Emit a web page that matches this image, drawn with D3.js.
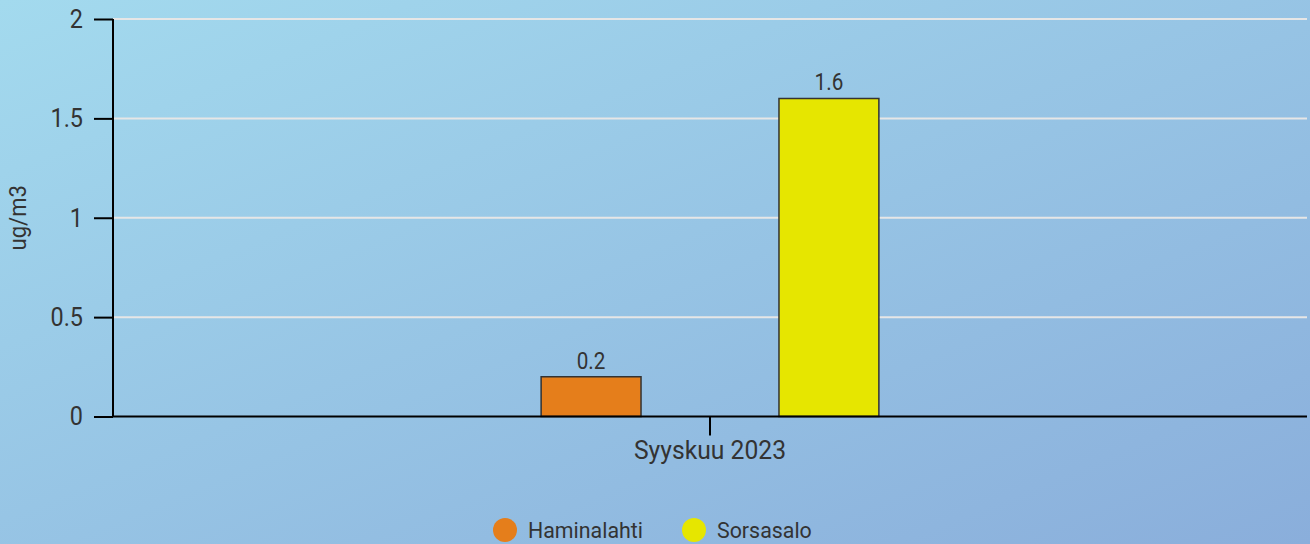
<!DOCTYPE html>
<html>
<head>
<meta charset="utf-8">
<script src="https://cdn.jsdelivr.net/npm/d3@7"></script>
<style>
  body { margin: 0; }
  svg { display: block; font-family: Roboto, sans-serif; }
  /* no condensed face installed, so squeeze Roboto a little */
  .cond { transform-box: fill-box; transform: scaleX(0.9); }
</style>
</head>
<body>
<svg id="chart" width="1310" height="544"></svg>
<script>
var categories = ["Syyskuu 2023"];
var seriesNames = ["Haminalahti", "Sorsasalo"];
var seriesValues = [0.2, 1.6];
var seriesColors = ["#e57e1b", "#e6e600"];
var yTicks = [0, 0.5, 1, 1.5, 2];

var width = 1310, height = 544;
var margin = {top: 19, right: 3, bottom: 127.5, left: 113};

var svg = d3.select("#chart");

// background gradient
var defs = svg.append("defs");
var grad = defs.append("linearGradient").attr("id", "bg")
	.attr("x1", "0%").attr("y1", "0%").attr("x2", "100%").attr("y2", "100%");
grad.append("stop").attr("offset", "0%").attr("stop-color", "#a3daee");
grad.append("stop").attr("offset", "100%").attr("stop-color", "#8aaedb");
svg.append("rect").attr("width", width).attr("height", height).attr("fill", "url(#bg)");

var x0 = d3.scaleBand().domain(categories).range([margin.left, width - margin.right]);
var x1 = d3.scaleBand().domain(seriesNames).range([0, x0.bandwidth()])
	.paddingInner(0.58).paddingOuter(1.8);
var y = d3.scaleLinear().domain([0, 2]).range([height - margin.bottom, margin.top]);

// grid lines
svg.append("g").selectAll("line").data(yTicks.slice(1)).enter().append("line")
	.attr("x1", margin.left).attr("x2", width - margin.right)
	.attr("y1", function(d) { return y(d); }).attr("y2", function(d) { return y(d); })
	.attr("stroke", "#e6e6e6").attr("stroke-width", 2);

// bars
var group = svg.append("g").selectAll("g").data(categories).enter().append("g")
	.attr("transform", function(d) { return "translate(" + x0(d) + ",0)"; });
seriesNames.forEach(function(name, i) {
	group.append("rect")
		.attr("x", x1(name))
		.attr("y", y(seriesValues[i]))
		.attr("width", x1.bandwidth())
		.attr("height", y(0) - y(seriesValues[i]))
		.attr("fill", seriesColors[i])
		.attr("stroke", "#333").attr("stroke-width", 1.5);
	group.append("text")
		.attr("class", "cond")
		.style("transform-origin", "center")
		.attr("x", x1(name) + x1.bandwidth() / 2)
		.attr("y", y(seriesValues[i]) - 8)
		.attr("text-anchor", "middle")
		.attr("font-size", 23).attr("fill", "#333")
		.text(seriesValues[i]);
});

// y axis
var yAxis = svg.append("g").attr("transform", "translate(" + margin.left + ",0)")
	.call(d3.axisLeft(y).tickValues(yTicks).tickSize(19).tickPadding(11).tickFormat(d3.format("")));
yAxis.select(".domain").attr("stroke", "#000").attr("stroke-width", 2).attr("d", "M0," + y(2) + "V" + y(0));
yAxis.selectAll(".tick line").attr("stroke", "#000").attr("stroke-width", 2);
yAxis.selectAll(".tick text").attr("class", "cond").style("transform-origin", "right center")
	.attr("font-size", 26).attr("fill", "#333").attr("font-family", "Roboto, sans-serif");

// x axis
var xAxis = svg.append("g").attr("transform", "translate(0," + y(0) + ")")
	.call(d3.axisBottom(x0).tickSize(19).tickPadding(5));
xAxis.select(".domain").attr("stroke", "#000").attr("stroke-width", 2)
	.attr("d", "M" + margin.left + ",0H" + (width - margin.right));
xAxis.selectAll(".tick line").attr("stroke", "#000").attr("stroke-width", 2);
xAxis.selectAll(".tick text").attr("class", "cond").style("transform", "scaleX(0.95)").style("transform-origin", "center")
	.attr("font-size", 26).attr("fill", "#333").attr("font-family", "Roboto, sans-serif");

// y title
svg.append("text")
	.attr("transform", "translate(26," + ((y(0) + y(2)) / 2) + ") rotate(-90) scale(0.92,1)")
	.attr("text-anchor", "middle").attr("font-size", 24).attr("fill", "#333")
	.text("ug/m3");

// legend
var legendX = [505, 694];
var legend = svg.append("g").selectAll("g").data(seriesNames).enter().append("g")
	.attr("transform", function(d, i) { return "translate(" + legendX[i] + ",530)"; });
legend.append("circle").attr("r", 12).attr("fill", function(d, i) { return seriesColors[i]; });
legend.append("text").attr("class", "cond").style("transform-origin", "left center")
	.style("transform", "scaleX(0.93)")
	.attr("x", 23).attr("dy", "0.35em")
	.attr("font-size", 23).attr("fill", "#333").text(function(d) { return d; });
</script>
</body>
</html>
